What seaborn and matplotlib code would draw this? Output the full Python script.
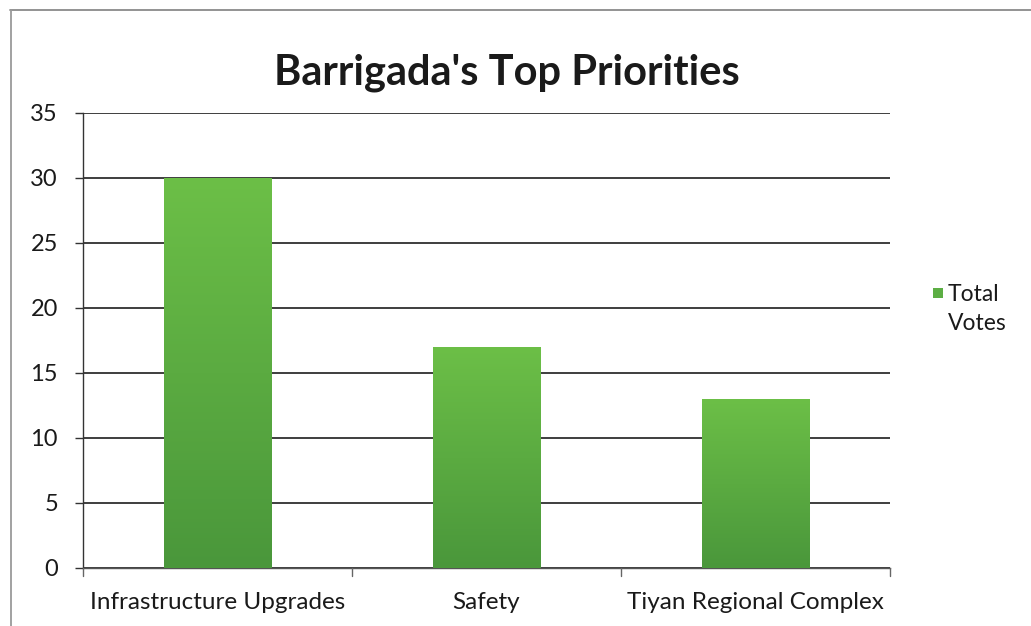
import numpy as np
import pandas as pd
import matplotlib
matplotlib.use("Agg")
import matplotlib.pyplot as plt
import seaborn as sns
from matplotlib.colors import LinearSegmentedColormap
from matplotlib.patches import Rectangle
from matplotlib.lines import Line2D

categories = ["Infrastructure Upgrades", "Safety", "Tiyan Regional Complex"]
total_votes = [30, 17, 13]
y_ticks = [0, 5, 10, 15, 20, 25, 30, 35]
title = "Barrigada's Top Priorities"
legend_label = "Total\nVotes"

df = pd.DataFrame({"Priority": categories, "Total Votes": total_votes})

sns.set_theme(style="white")
plt.rcParams["font.family"] = ["Lato", "DejaVu Sans"]

fig = plt.figure(figsize=(10.31, 6.26), dpi=100)
ax = fig.add_axes([0.0805, 0.0927, 0.7825, 0.7268])

sns.barplot(data=df, x="Priority", y="Total Votes", ax=ax, width=0.40,
            color="#5cae44", saturation=1, zorder=3)

# vertical green gradient inside each bar
grad_cmap = LinearSegmentedColormap.from_list("bar_green", ["#4a973b", "#6cbf47"])
gradient = np.linspace(0, 1, 256).reshape(-1, 1)
for patch in ax.patches:
    x0, y0 = patch.get_x(), patch.get_y()
    w, h = patch.get_width(), patch.get_height()
    patch.set_facecolor("none")
    patch.set_edgecolor("none")
    im = ax.imshow(gradient, cmap=grad_cmap, origin="lower", aspect="auto",
                   extent=[x0, x0 + w, y0, y0 + h], zorder=3)
    im.set_clip_path(patch)

ax.set_xlim(-0.5, len(categories) - 0.5)
ax.set_ylim(0, 35)
ax.set_yticks(y_ticks)
ax.set_yticklabels([str(t) for t in y_ticks], fontsize=17, color="#1a1a1a")
ax.set_xticks(range(len(categories)))
ax.set_xticklabels(categories, fontsize=17.5, color="#1a1a1a")
ax.set_xlabel("")
ax.set_ylabel("")

ax.yaxis.grid(True, color="#1e1e1e", linewidth=1.2, zorder=0)
ax.set_axisbelow(True)

for side in ["top", "right"]:
    ax.spines[side].set_visible(False)
ax.spines["left"].set_color("#333333")
ax.spines["left"].set_linewidth(1.0)
ax.spines["bottom"].set_color("#555555")
ax.spines["bottom"].set_linewidth(1.0)

ax.tick_params(axis="y", length=6, width=1, color="#333333", pad=12, left=True)
ax.tick_params(axis="x", length=0, pad=17)

# category boundary tick marks along the baseline
for b in np.arange(-0.5, len(categories), 1.0):
    ax.plot([b, b], [0, -0.6], color="#666666", linewidth=1, clip_on=False, zorder=4)

fig.text(0.492, 0.865, title, fontsize=30, fontweight="bold", color="#1a1a1a",
         ha="center", va="baseline")

# legend entry on the right
fig.patches.append(Rectangle((933 / 1031, 1 - 298 / 626), 10 / 1031, 10 / 626,
                             transform=fig.transFigure,
                             facecolor="#5cae44", edgecolor="none"))
fig.text(948 / 1031, 1 - 284 / 626, legend_label, fontsize=16.5, color="#1a1a1a",
         va="top", ha="left", multialignment="left", linespacing=1.45)

# outer chart frame (top and left edges)
fig.add_artist(Line2D([0.01, 1.0], [0.984, 0.984], transform=fig.transFigure,
                      color="#8a8a8a", linewidth=1.3))
fig.add_artist(Line2D([0.011, 0.011], [0.0, 0.984], transform=fig.transFigure,
                      color="#9a9a9a", linewidth=1.3))

fig.savefig("out.png", dpi=100)
